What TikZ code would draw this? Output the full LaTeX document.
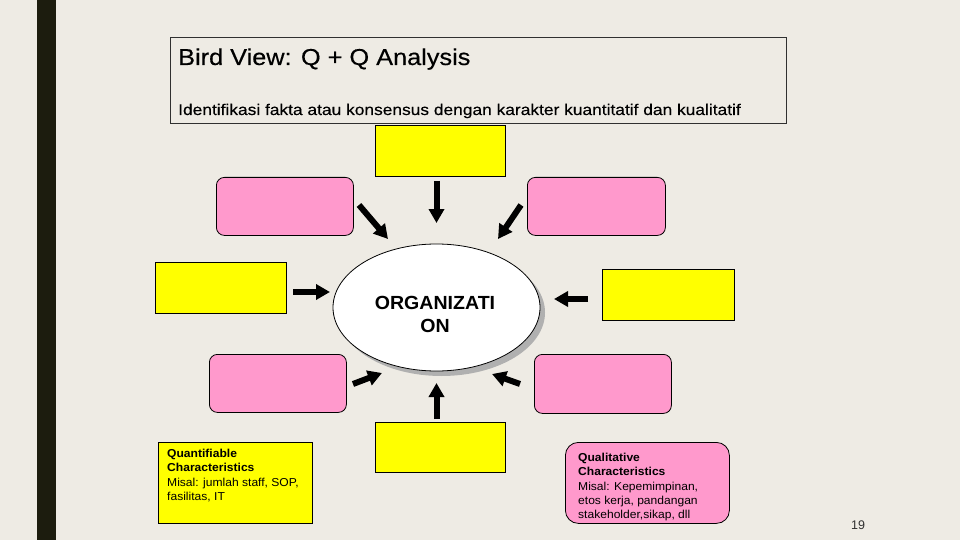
\documentclass[tikz,border=0pt]{standalone}
\usepackage{fontspec}
\setmainfont{Liberation Sans}
\newfontfamily\titlefont[FakeStretch=1.1,FakeBold=0.4]{Liberation Sans}
\newfontfamily\subfont[FakeStretch=1.12,FakeBold=0.3]{Liberation Sans}
\newfontfamily\smallfont[FakeStretch=1.05]{Liberation Sans}
\newfontfamily\orgfont[FakeStretch=1.03]{Liberation Sans}
\usetikzlibrary{shapes.geometric,arrows.meta}
\definecolor{bgc}{HTML}{EEEBE4}
\definecolor{barc}{HTML}{1C1C0E}
\definecolor{yel}{HTML}{FFFF00}
\definecolor{pinkc}{HTML}{FF99CC}
\definecolor{shadowc}{HTML}{B0B0B0}
\definecolor{framec}{HTML}{303030}
\tikzset{
  box/.style={draw=black, line width=0.8pt, inner sep=0pt, anchor=north west},
  ybox/.style={box, fill=yel},
  pbox/.style={box, fill=pinkc, rounded corners=8pt},
  bigarrow/.style={line width=6pt, -{Triangle[length=14pt,width=15pt]}},
  smalltext/.style={inner sep=0pt, anchor=north west, align=left,
     font=\smallfont\fontsize{11.5}{14.4}\selectfont},
}
\begin{document}
\begin{tikzpicture}[x=1pt,y=-1pt]
\fill[bgc] (0,0) rectangle (960,540);
\useasboundingbox (0,0) rectangle (960,540);
\fill[barc] (37,0) rectangle (56,540);

% title frame
\node[draw=framec, line width=1pt, inner sep=0pt, anchor=north west,
      minimum width=616pt, minimum height=86pt] (frame) at (170,37) {};
\node[inner sep=0pt, anchor=base west, font=\titlefont\fontsize{23}{27}\selectfont]
   (title) at (178,65) {Bird View: Q + Q Analysis};
\node[inner sep=0pt, anchor=base west, font=\subfont\fontsize{15.5}{18}\selectfont]
   (subtitle) at (178,115) {Identifikasi fakta atau konsensus dengan karakter kuantitatif dan kualitatif};

% boxes
\node[ybox, minimum width=130pt, minimum height=51pt] (ytop) at (375,125) {};
\node[pbox, minimum width=137pt, minimum height=58pt] (ptl) at (216,177) {};
\node[pbox, minimum width=138pt, minimum height=58pt] (ptr) at (527,177) {};
\node[ybox, minimum width=131pt, minimum height=51pt] (yleft) at (155,262) {};
\node[ybox, minimum width=132pt, minimum height=51pt] (yright) at (602,269) {};
\node[pbox, minimum width=137pt, minimum height=58pt] (pbl) at (209,354) {};
\node[pbox, minimum width=137pt, minimum height=59pt] (pbr) at (534,354) {};
\node[ybox, minimum width=130pt, minimum height=50pt] (ybot) at (375,422) {};
\node[ybox, minimum width=154pt, minimum height=81pt] (quant) at (158,442) {};
\node[box, fill=pinkc, rounded corners=13pt, minimum width=164pt, minimum height=81pt] (qual) at (565,442) {};

\node[smalltext] (quanttext) at (167,448.8)
  {\bfseries Quantifiable\\ \bfseries Characteristics\\ Misal: jumlah staff, SOP,\\ fasilitas, IT};
\node[smalltext] (qualtext) at (578,452.8)
  {\bfseries Qualitative\\ \bfseries Characteristics\\ Misal: Kepemimpinan,\\ etos kerja, pandangan\\ stakeholder,sikap, dll};

% organization ellipse
\node[ellipse, fill=shadowc, inner sep=0pt, minimum width=207pt, minimum height=127pt] (orgshadow) at (441.5,312.5) {};
\node[ellipse, draw=black, line width=0.8pt, fill=white, inner sep=0pt, minimum width=207pt, minimum height=127pt] (org) at (436.5,307.5) {};
\node[inner sep=0pt, align=center, font=\orgfont\bfseries\fontsize{19}{23}\selectfont] (orgtext) at (435,314.5) {ORGANIZATI\\ON};

% arrows
\coordinate (a1s) at (436.5,181); \coordinate (a1e) at (436.5,223);
\coordinate (a2s) at (359,205);   \coordinate (a2e) at (388,239);
\coordinate (a3s) at (521,205);   \coordinate (a3e) at (498,239);
\coordinate (a4s) at (293,292);   \coordinate (a4e) at (330,292);
\coordinate (a5s) at (588,299);   \coordinate (a5e) at (554,299);
\coordinate (a6s) at (353,384);   \coordinate (a6e) at (382,373);
\coordinate (a7s) at (436.5,419); \coordinate (a7e) at (436.5,383);
\coordinate (a8s) at (520,384);   \coordinate (a8e) at (492,374);
\foreach \i in {1,...,8} { \draw[bigarrow] (a\i s) -- (a\i e); }

\node[inner sep=0pt, anchor=base west, text=framec, font=\fontsize{12.5}{15}\selectfont] (pagenum) at (851,529) {19};
\end{tikzpicture}
\end{document}
